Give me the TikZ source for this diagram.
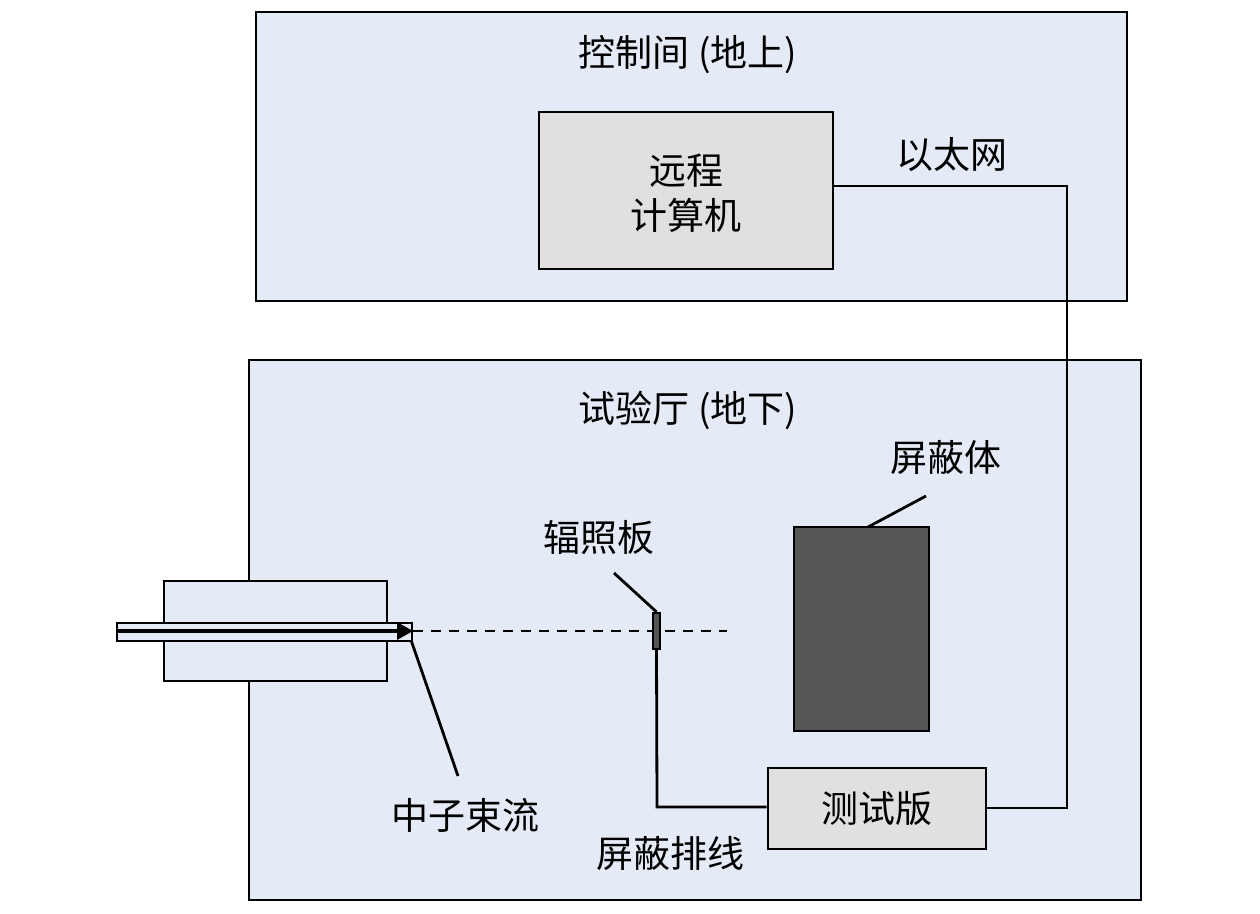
\documentclass[tikz,border=0pt]{standalone}
\usepackage{fontspec}
\newfontfamily\cjk{Noto Sans CJK SC}
\usetikzlibrary{arrows.meta}
\definecolor{roomfill}{HTML}{E5EBF6}
\definecolor{boxfill}{HTML}{E0E0E0}
\definecolor{darkfill}{HTML}{555555}
\tikzset{
  room/.style={draw=black, line width=2.8pt, fill=roomfill},
  graybox/.style={draw=black, line width=2.8pt, fill=boxfill},
  darkbox/.style={draw=black, line width=2.8pt, fill=darkfill},
  wire/.style={draw=black, line width=2.8pt},
  lbl/.style={font=\cjk\fontsize{37}{45}\selectfont, inner sep=0pt, align=center},
}
\begin{document}
\begin{tikzpicture}[x=1pt,y=-1pt]
\useasboundingbox (0,0) rectangle (1260,913);
% rooms
\draw[room] (256,12) rectangle (1127,301);
\draw[room] (249,360) rectangle (1141,900);
\node[lbl] (t1) at (688,55) {控制间 (地上)};
\node[lbl] (t2) at (688,410) {试验厅 (地下)};
% remote computer
\node[graybox, minimum width=294pt, minimum height=157pt, inner sep=0pt] (pc) at (686,190.5) {};
\node[lbl] at (686,193) {远程\\计算机};
\node[lbl] (eth) at (952,155) {以太网};
% test board
\node[graybox, minimum width=218pt, minimum height=81pt, inner sep=0pt] (tb) at (877,808.5) {};
\node[lbl] at (877,808) {测试版};
% ethernet cable
\coordinate (e1) at (1067,186);
\coordinate (e2) at (1067,808);
\draw[wire] (pc.east |- e1) -- (e1) -- (e2) -- (tb.east |- e2);
% shield
\node[darkbox, minimum width=135pt, minimum height=204pt, inner sep=0pt] (sh) at (861.5,629) {};
\node[lbl] (shl) at (946,457) {屏蔽体};
\coordinate (shp) at (926,496);
\draw[wire] (868,527) -- (shp);
% beam housing
\draw[room] (164,581) rectangle (387,681);
\node[draw=black, line width=2.8pt, fill=roomfill, minimum width=295pt, minimum height=18pt, inner sep=0pt] (tube) at (264.5,632) {};
\draw[line width=3.2pt] (117,631) -- (400,631);
\fill[black] (397,622) -- (413,631) -- (397,640) -- cycle;
% dashed beam
\coordinate (d1) at (413,631);
\coordinate (d2) at (727,631);
\draw[line width=2.8pt, dash pattern=on 10pt off 8pt] (d1) -- (d2);
% irradiation plate
\node[draw=black, line width=2.2pt, fill=darkfill, minimum width=7pt, minimum height=36pt, inner sep=0pt] (pl) at (656.5,631) {};
\node[lbl] (pll) at (599,538) {辐照板};
\coordinate (plp) at (614,573);
\draw[wire] (plp) -- (pl.north);
% shielded cable
\coordinate (c1) at (657,807);
\draw[wire] (pl.south) -- (c1) -- (tb.west |- c1);
\node[lbl] (cbl) at (670,853) {屏蔽排线};
% neutron beam label
\node[lbl] (nb) at (465,815) {中子束流};
\coordinate (nbp) at (458,776);
\draw[wire] (411,640) -- (nbp);
\end{tikzpicture}
\end{document}
